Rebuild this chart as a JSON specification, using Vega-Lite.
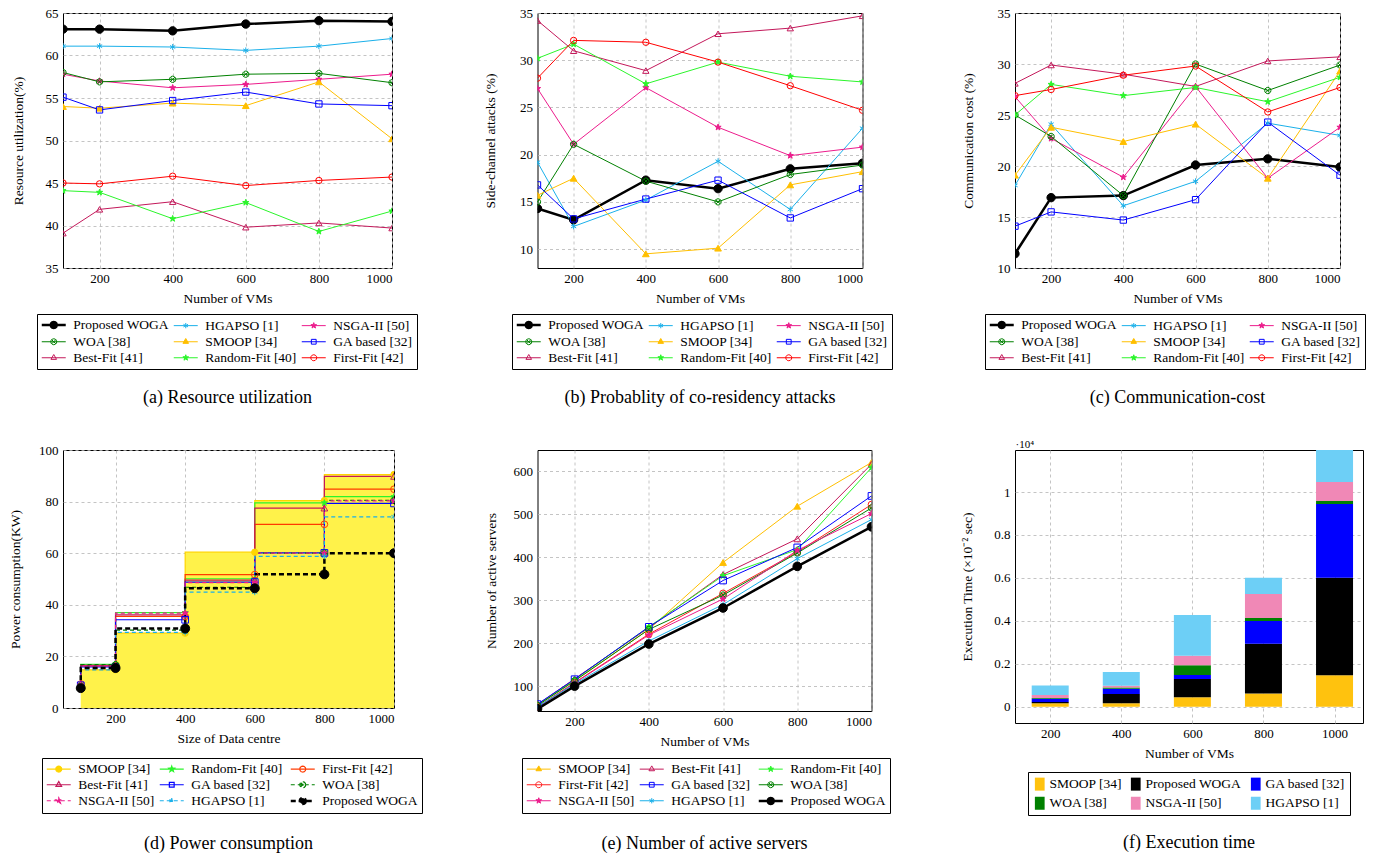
{
"$schema": "https://vega.github.io/schema/vega-lite/v6.json",
"padding": {"left": 8, "top": 6, "right": 5, "bottom": 5},
"background": "white",
"config": {
  "font": "Liberation Serif",
  "view": {"stroke": "#000", "strokeWidth": 1},
  "axis": {"labelFont": "Liberation Serif", "labelFontSize": 13, "labelColor": "#000", "titleFont": "Liberation Serif", "titleFontSize": 13.5, "titleFontWeight": "normal", "titleColor": "#000", "domain": false, "ticks": false, "gridColor": "#b5b5b5", "gridDash": [3, 3], "gridWidth": 0.8, "labelPadding": 4},
  "axisX": {"titlePadding": 6},
  "axisY": {"labelPadding": 5},
  "legend": {"labelFont": "Liberation Serif", "labelFontSize": 13.5, "labelColor": "#000", "strokeColor": "#000", "fillColor": "#fff", "padding": 4, "rowPadding": 1, "columnPadding": 2, "symbolOffset": 5.75, "labelOffset": 12.5, "labelLimit": 220},
  "title": {"font": "Liberation Serif", "fontSize": 18, "fontWeight": "normal", "color": "#000"}
},
"datasets": {
  "a": [
    {"x":100,"s":"Proposed WOGA","v":63.1},{"x":200,"s":"Proposed WOGA","v":63.1},{"x":400,"s":"Proposed WOGA","v":62.9},{"x":600,"s":"Proposed WOGA","v":63.7},{"x":800,"s":"Proposed WOGA","v":64.1},{"x":1000,"s":"Proposed WOGA","v":64.0},
    {"x":100,"s":"HGAPSO [1]","v":61.1},{"x":200,"s":"HGAPSO [1]","v":61.1},{"x":400,"s":"HGAPSO [1]","v":61.0},{"x":600,"s":"HGAPSO [1]","v":60.6},{"x":800,"s":"HGAPSO [1]","v":61.1},{"x":1000,"s":"HGAPSO [1]","v":62.0},
    {"x":100,"s":"NSGA-II [50]","v":57.8},{"x":200,"s":"NSGA-II [50]","v":57.0},{"x":400,"s":"NSGA-II [50]","v":56.2},{"x":600,"s":"NSGA-II [50]","v":56.6},{"x":800,"s":"NSGA-II [50]","v":57.2},{"x":1000,"s":"NSGA-II [50]","v":57.8},
    {"x":100,"s":"WOA [38]","v":58.0},{"x":200,"s":"WOA [38]","v":56.9},{"x":400,"s":"WOA [38]","v":57.2},{"x":600,"s":"WOA [38]","v":57.8},{"x":800,"s":"WOA [38]","v":57.9},{"x":1000,"s":"WOA [38]","v":56.8},
    {"x":100,"s":"SMOOP [34]","v":54.0},{"x":200,"s":"SMOOP [34]","v":53.8},{"x":400,"s":"SMOOP [34]","v":54.4},{"x":600,"s":"SMOOP [34]","v":54.1},{"x":800,"s":"SMOOP [34]","v":56.9},{"x":1000,"s":"SMOOP [34]","v":50.2},
    {"x":100,"s":"GA based [32]","v":55.1},{"x":200,"s":"GA based [32]","v":53.6},{"x":400,"s":"GA based [32]","v":54.7},{"x":600,"s":"GA based [32]","v":55.7},{"x":800,"s":"GA based [32]","v":54.3},{"x":1000,"s":"GA based [32]","v":54.1},
    {"x":100,"s":"Best-Fit [41]","v":39.1},{"x":200,"s":"Best-Fit [41]","v":41.9},{"x":400,"s":"Best-Fit [41]","v":42.8},{"x":600,"s":"Best-Fit [41]","v":39.8},{"x":800,"s":"Best-Fit [41]","v":40.3},{"x":1000,"s":"Best-Fit [41]","v":39.7},
    {"x":100,"s":"Random-Fit [40]","v":44.1},{"x":200,"s":"Random-Fit [40]","v":43.9},{"x":400,"s":"Random-Fit [40]","v":40.8},{"x":600,"s":"Random-Fit [40]","v":42.7},{"x":800,"s":"Random-Fit [40]","v":39.3},{"x":1000,"s":"Random-Fit [40]","v":41.7},
    {"x":100,"s":"First-Fit [42]","v":45.0},{"x":200,"s":"First-Fit [42]","v":44.9},{"x":400,"s":"First-Fit [42]","v":45.8},{"x":600,"s":"First-Fit [42]","v":44.7},{"x":800,"s":"First-Fit [42]","v":45.3},{"x":1000,"s":"First-Fit [42]","v":45.7}
  ],
  "b": [
    {"x":100,"s":"Proposed WOGA","v":14.3},{"x":200,"s":"Proposed WOGA","v":13.1},{"x":400,"s":"Proposed WOGA","v":17.3},{"x":600,"s":"Proposed WOGA","v":16.4},{"x":800,"s":"Proposed WOGA","v":18.5},{"x":1000,"s":"Proposed WOGA","v":19.1},
    {"x":100,"s":"HGAPSO [1]","v":19.2},{"x":200,"s":"HGAPSO [1]","v":12.4},{"x":400,"s":"HGAPSO [1]","v":15.2},{"x":600,"s":"HGAPSO [1]","v":19.3},{"x":800,"s":"HGAPSO [1]","v":14.2},{"x":1000,"s":"HGAPSO [1]","v":22.8},
    {"x":100,"s":"NSGA-II [50]","v":27.0},{"x":200,"s":"NSGA-II [50]","v":21.1},{"x":400,"s":"NSGA-II [50]","v":27.1},{"x":600,"s":"NSGA-II [50]","v":22.9},{"x":800,"s":"NSGA-II [50]","v":19.9},{"x":1000,"s":"NSGA-II [50]","v":20.8},
    {"x":100,"s":"WOA [38]","v":15.0},{"x":200,"s":"WOA [38]","v":21.1},{"x":400,"s":"WOA [38]","v":17.2},{"x":600,"s":"WOA [38]","v":15.0},{"x":800,"s":"WOA [38]","v":17.9},{"x":1000,"s":"WOA [38]","v":18.9},
    {"x":100,"s":"SMOOP [34]","v":15.7},{"x":200,"s":"SMOOP [34]","v":17.5},{"x":400,"s":"SMOOP [34]","v":9.5},{"x":600,"s":"SMOOP [34]","v":10.1},{"x":800,"s":"SMOOP [34]","v":16.8},{"x":1000,"s":"SMOOP [34]","v":18.2},
    {"x":100,"s":"GA based [32]","v":16.8},{"x":200,"s":"GA based [32]","v":13.2},{"x":400,"s":"GA based [32]","v":15.3},{"x":600,"s":"GA based [32]","v":17.3},{"x":800,"s":"GA based [32]","v":13.3},{"x":1000,"s":"GA based [32]","v":16.4},
    {"x":100,"s":"Best-Fit [41]","v":34.2},{"x":200,"s":"Best-Fit [41]","v":31.0},{"x":400,"s":"Best-Fit [41]","v":28.9},{"x":600,"s":"Best-Fit [41]","v":32.8},{"x":800,"s":"Best-Fit [41]","v":33.4},{"x":1000,"s":"Best-Fit [41]","v":34.7},
    {"x":100,"s":"Random-Fit [40]","v":30.2},{"x":200,"s":"Random-Fit [40]","v":31.7},{"x":400,"s":"Random-Fit [40]","v":27.5},{"x":600,"s":"Random-Fit [40]","v":29.8},{"x":800,"s":"Random-Fit [40]","v":28.3},{"x":1000,"s":"Random-Fit [40]","v":27.7},
    {"x":100,"s":"First-Fit [42]","v":28.1},{"x":200,"s":"First-Fit [42]","v":32.1},{"x":400,"s":"First-Fit [42]","v":31.9},{"x":600,"s":"First-Fit [42]","v":29.8},{"x":800,"s":"First-Fit [42]","v":27.3},{"x":1000,"s":"First-Fit [42]","v":24.7}
  ],
  "c": [
    {"x":100,"s":"Proposed WOGA","v":11.4},{"x":200,"s":"Proposed WOGA","v":16.9},{"x":400,"s":"Proposed WOGA","v":17.1},{"x":600,"s":"Proposed WOGA","v":20.1},{"x":800,"s":"Proposed WOGA","v":20.7},{"x":1000,"s":"Proposed WOGA","v":19.9},
    {"x":100,"s":"HGAPSO [1]","v":18.1},{"x":200,"s":"HGAPSO [1]","v":24.1},{"x":400,"s":"HGAPSO [1]","v":16.1},{"x":600,"s":"HGAPSO [1]","v":18.5},{"x":800,"s":"HGAPSO [1]","v":24.2},{"x":1000,"s":"HGAPSO [1]","v":23.0},
    {"x":100,"s":"NSGA-II [50]","v":26.8},{"x":200,"s":"NSGA-II [50]","v":22.7},{"x":400,"s":"NSGA-II [50]","v":18.9},{"x":600,"s":"NSGA-II [50]","v":27.8},{"x":800,"s":"NSGA-II [50]","v":18.8},{"x":1000,"s":"NSGA-II [50]","v":23.8},
    {"x":100,"s":"WOA [38]","v":25.0},{"x":200,"s":"WOA [38]","v":22.9},{"x":400,"s":"WOA [38]","v":17.1},{"x":600,"s":"WOA [38]","v":30.0},{"x":800,"s":"WOA [38]","v":27.4},{"x":1000,"s":"WOA [38]","v":29.9},
    {"x":100,"s":"SMOOP [34]","v":19.1},{"x":200,"s":"SMOOP [34]","v":23.8},{"x":400,"s":"SMOOP [34]","v":22.4},{"x":600,"s":"SMOOP [34]","v":24.1},{"x":800,"s":"SMOOP [34]","v":18.8},{"x":1000,"s":"SMOOP [34]","v":29.3},
    {"x":100,"s":"GA based [32]","v":14.1},{"x":200,"s":"GA based [32]","v":15.5},{"x":400,"s":"GA based [32]","v":14.7},{"x":600,"s":"GA based [32]","v":16.7},{"x":800,"s":"GA based [32]","v":24.3},{"x":1000,"s":"GA based [32]","v":19.1},
    {"x":100,"s":"Best-Fit [41]","v":28.1},{"x":200,"s":"Best-Fit [41]","v":29.9},{"x":400,"s":"Best-Fit [41]","v":29.0},{"x":600,"s":"Best-Fit [41]","v":27.8},{"x":800,"s":"Best-Fit [41]","v":30.3},{"x":1000,"s":"Best-Fit [41]","v":30.7},
    {"x":100,"s":"Random-Fit [40]","v":25.0},{"x":200,"s":"Random-Fit [40]","v":28.0},{"x":400,"s":"Random-Fit [40]","v":26.9},{"x":600,"s":"Random-Fit [40]","v":27.7},{"x":800,"s":"Random-Fit [40]","v":26.3},{"x":1000,"s":"Random-Fit [40]","v":28.7},
    {"x":100,"s":"First-Fit [42]","v":26.9},{"x":200,"s":"First-Fit [42]","v":27.5},{"x":400,"s":"First-Fit [42]","v":28.9},{"x":600,"s":"First-Fit [42]","v":29.8},{"x":800,"s":"First-Fit [42]","v":25.3},{"x":1000,"s":"First-Fit [42]","v":27.7}
  ],
  "d": [
    {"x":100,"s":"SMOOP [34]","v":8.5},{"x":200,"s":"SMOOP [34]","v":14.8},{"x":400,"s":"SMOOP [34]","v":29.0},{"x":600,"s":"SMOOP [34]","v":60.4},{"x":800,"s":"SMOOP [34]","v":80.4},{"x":1000,"s":"SMOOP [34]","v":90.5},
    {"x":100,"s":"Random-Fit [40]","v":8.8},{"x":200,"s":"Random-Fit [40]","v":16.9},{"x":400,"s":"Random-Fit [40]","v":37.0},{"x":600,"s":"Random-Fit [40]","v":50.1},{"x":800,"s":"Random-Fit [40]","v":79.5},{"x":1000,"s":"Random-Fit [40]","v":81.9},
    {"x":100,"s":"First-Fit [42]","v":9.3},{"x":200,"s":"First-Fit [42]","v":16.2},{"x":400,"s":"First-Fit [42]","v":35.5},{"x":600,"s":"First-Fit [42]","v":51.7},{"x":800,"s":"First-Fit [42]","v":71.2},{"x":1000,"s":"First-Fit [42]","v":84.8},
    {"x":100,"s":"Best-Fit [41]","v":9.0},{"x":200,"s":"Best-Fit [41]","v":16.5},{"x":400,"s":"Best-Fit [41]","v":36.1},{"x":600,"s":"Best-Fit [41]","v":49.6},{"x":800,"s":"Best-Fit [41]","v":77.5},{"x":1000,"s":"Best-Fit [41]","v":89.8},
    {"x":100,"s":"GA based [32]","v":8.8},{"x":200,"s":"GA based [32]","v":15.9},{"x":400,"s":"GA based [32]","v":34.2},{"x":600,"s":"GA based [32]","v":48.8},{"x":800,"s":"GA based [32]","v":60.1},{"x":1000,"s":"GA based [32]","v":79.3},
    {"x":100,"s":"WOA [38]","v":8.6},{"x":200,"s":"WOA [38]","v":16.8},{"x":400,"s":"WOA [38]","v":30.2},{"x":600,"s":"WOA [38]","v":46.8},{"x":800,"s":"WOA [38]","v":60.0},{"x":1000,"s":"WOA [38]","v":80.5},
    {"x":100,"s":"NSGA-II [50]","v":8.9},{"x":200,"s":"NSGA-II [50]","v":16.3},{"x":400,"s":"NSGA-II [50]","v":36.8},{"x":600,"s":"NSGA-II [50]","v":48.6},{"x":800,"s":"NSGA-II [50]","v":60.0},{"x":1000,"s":"NSGA-II [50]","v":80.3},
    {"x":100,"s":"HGAPSO [1]","v":8.4},{"x":200,"s":"HGAPSO [1]","v":14.8},{"x":400,"s":"HGAPSO [1]","v":29.3},{"x":600,"s":"HGAPSO [1]","v":44.9},{"x":800,"s":"HGAPSO [1]","v":58.8},{"x":1000,"s":"HGAPSO [1]","v":74.1},
    {"x":100,"s":"Proposed WOGA","v":7.7},{"x":200,"s":"Proposed WOGA","v":15.5},{"x":400,"s":"Proposed WOGA","v":30.8},{"x":600,"s":"Proposed WOGA","v":46.4},{"x":800,"s":"Proposed WOGA","v":51.8},{"x":1000,"s":"Proposed WOGA","v":60.0}
  ],
  "e": [
    {"x":100,"s":"SMOOP [34]","v":57},{"x":200,"s":"SMOOP [34]","v":113},{"x":400,"s":"SMOOP [34]","v":232},{"x":600,"s":"SMOOP [34]","v":388},{"x":800,"s":"SMOOP [34]","v":519},{"x":1000,"s":"SMOOP [34]","v":621},
    {"x":100,"s":"Best-Fit [41]","v":57},{"x":200,"s":"Best-Fit [41]","v":117},{"x":400,"s":"Best-Fit [41]","v":236},{"x":600,"s":"Best-Fit [41]","v":360},{"x":800,"s":"Best-Fit [41]","v":443},{"x":1000,"s":"Best-Fit [41]","v":617},
    {"x":100,"s":"Random-Fit [40]","v":55},{"x":200,"s":"Random-Fit [40]","v":115},{"x":400,"s":"Random-Fit [40]","v":238},{"x":600,"s":"Random-Fit [40]","v":357},{"x":800,"s":"Random-Fit [40]","v":418},{"x":1000,"s":"Random-Fit [40]","v":609},
    {"x":100,"s":"First-Fit [42]","v":52},{"x":200,"s":"First-Fit [42]","v":108},{"x":400,"s":"First-Fit [42]","v":221},{"x":600,"s":"First-Fit [42]","v":316},{"x":800,"s":"First-Fit [42]","v":412},{"x":1000,"s":"First-Fit [42]","v":523},
    {"x":100,"s":"GA based [32]","v":58},{"x":200,"s":"GA based [32]","v":116},{"x":400,"s":"GA based [32]","v":238},{"x":600,"s":"GA based [32]","v":346},{"x":800,"s":"GA based [32]","v":423},{"x":1000,"s":"GA based [32]","v":543},
    {"x":100,"s":"WOA [38]","v":55},{"x":200,"s":"WOA [38]","v":112},{"x":400,"s":"WOA [38]","v":232},{"x":600,"s":"WOA [38]","v":312},{"x":800,"s":"WOA [38]","v":410},{"x":1000,"s":"WOA [38]","v":515},
    {"x":100,"s":"NSGA-II [50]","v":50},{"x":200,"s":"NSGA-II [50]","v":107},{"x":400,"s":"NSGA-II [50]","v":219},{"x":600,"s":"NSGA-II [50]","v":303},{"x":800,"s":"NSGA-II [50]","v":416},{"x":1000,"s":"NSGA-II [50]","v":502},
    {"x":100,"s":"HGAPSO [1]","v":52},{"x":200,"s":"HGAPSO [1]","v":105},{"x":400,"s":"HGAPSO [1]","v":205},{"x":600,"s":"HGAPSO [1]","v":290},{"x":800,"s":"HGAPSO [1]","v":397},{"x":1000,"s":"HGAPSO [1]","v":488},
    {"x":100,"s":"Proposed WOGA","v":47},{"x":200,"s":"Proposed WOGA","v":100},{"x":400,"s":"Proposed WOGA","v":198},{"x":600,"s":"Proposed WOGA","v":282},{"x":800,"s":"Proposed WOGA","v":379},{"x":1000,"s":"Proposed WOGA","v":471}
  ],
  "f": [
    {"x":200,"s":"SMOOP [34]","lo":0,"hi":0.0155},{"x":200,"s":"Proposed WOGA","lo":0.0155,"hi":0.022},{"x":200,"s":"GA based [32]","lo":0.022,"hi":0.037},{"x":200,"s":"WOA [38]","lo":0.037,"hi":0.040},{"x":200,"s":"NSGA-II [50]","lo":0.040,"hi":0.054},{"x":200,"s":"HGAPSO [1]","lo":0.054,"hi":0.099},
    {"x":400,"s":"SMOOP [34]","lo":0,"hi":0.0155},{"x":400,"s":"Proposed WOGA","lo":0.0155,"hi":0.059},{"x":400,"s":"GA based [32]","lo":0.059,"hi":0.084},{"x":400,"s":"WOA [38]","lo":0.084,"hi":0.089},{"x":400,"s":"NSGA-II [50]","lo":0.089,"hi":0.098},{"x":400,"s":"HGAPSO [1]","lo":0.098,"hi":0.1615},
    {"x":600,"s":"SMOOP [34]","lo":0,"hi":0.0435},{"x":600,"s":"Proposed WOGA","lo":0.0435,"hi":0.129},{"x":600,"s":"GA based [32]","lo":0.129,"hi":0.1475},{"x":600,"s":"WOA [38]","lo":0.1475,"hi":0.1925},{"x":600,"s":"NSGA-II [50]","lo":0.1925,"hi":0.2375},{"x":600,"s":"HGAPSO [1]","lo":0.2375,"hi":0.427},
    {"x":800,"s":"SMOOP [34]","lo":0,"hi":0.062},{"x":800,"s":"Proposed WOGA","lo":0.062,"hi":0.293},{"x":800,"s":"GA based [32]","lo":0.293,"hi":0.399},{"x":800,"s":"WOA [38]","lo":0.399,"hi":0.413},{"x":800,"s":"NSGA-II [50]","lo":0.413,"hi":0.525},{"x":800,"s":"HGAPSO [1]","lo":0.525,"hi":0.601},
    {"x":1000,"s":"SMOOP [34]","lo":0,"hi":0.146},{"x":1000,"s":"Proposed WOGA","lo":0.146,"hi":0.601},{"x":1000,"s":"GA based [32]","lo":0.601,"hi":0.944},{"x":1000,"s":"WOA [38]","lo":0.944,"hi":0.958},{"x":1000,"s":"NSGA-II [50]","lo":0.958,"hi":1.047},{"x":1000,"s":"HGAPSO [1]","lo":1.047,"hi":1.25}
  ]
},
"columns": 3,
"bounds": "flush",
"spacing": {"row": 182, "column": 143.5},
"resolve": {
  "scale": {"stroke": "independent", "fill": "independent", "shape": "independent", "size": "independent", "strokeWidth": "independent", "strokeDash": "independent", "color": "independent"},
  "legend": {"stroke": "independent", "fill": "independent", "shape": "independent", "size": "independent", "strokeWidth": "independent", "strokeDash": "independent", "color": "independent"}
},
"concat": [
  {
    "width": 329, "height": 255,
    "data": {"name": "a"},
    "title": {"text": "(a) Resource utilization", "orient": "bottom", "anchor": "middle", "frame": "group", "offset": 19},
    "layer": [
      {"mark": {"type": "line", "clip": true},
       "encoding": {
         "x": {"field": "x", "type": "quantitative", "scale": {"domain": [100, 1000], "nice": false, "zero": false}, "axis": {"values": [200, 400, 600, 800, 1000], "format": "d", "title": "Number of VMs"}},
         "y": {"field": "v", "type": "quantitative", "scale": {"domain": [35, 65], "nice": false, "zero": false}, "axis": {"values": [35, 40, 45, 50, 55, 60, 65], "title": "Resource utilization(%)", "titlePadding": 20}},
         "stroke": {"field": "s", "type": "nominal",
           "scale": {"domain": ["Proposed WOGA","HGAPSO [1]","NSGA-II [50]","WOA [38]","SMOOP [34]","GA based [32]","Best-Fit [41]","Random-Fit [40]","First-Fit [42]"], "range": ["#000000","#1ab0ea","#ec1c8c","#008000","#ffbf00","#0000ff","#c3185a","#2bf52b","#ff0000"]},
           "legend": {"orient": "none", "legendX": -26, "legendY": 301, "columns": 3, "direction": "horizontal", "title": null,
             "encode": {"symbols": {"update": {
               "shape": {"signal": "['M-2.18,0L2.18,0M0.545,0L0.472,0.273L0.273,0.472L0,0.545L-0.273,0.472L-0.472,0.273L-0.545,0L-0.472,-0.273L-0.273,-0.472L0,-0.545L0.273,-0.472L0.472,-0.273Z','M-2.18,0L2.18,0M0,-0.48L0,0.48M-0.415,-0.24L0.415,0.24M-0.415,0.24L0.415,-0.24','M-2.18,0L2.18,0M0,-0.545L0.128,-0.176L0.518,-0.168L0.207,0.067L0.32,0.441L0,0.218L-0.32,0.441L-0.207,0.067L-0.518,-0.168L-0.128,-0.176Z','M-2.18,0L2.18,0M0.545,0L0.472,0.273L0.273,0.472L0,0.545L-0.273,0.472L-0.472,0.273L-0.545,0L-0.472,-0.273L-0.273,-0.472L0,-0.545L0.273,-0.472L0.472,-0.273ZM-0.386,-0.386L0.386,0.386M-0.386,0.386L0.386,-0.386','M-2.18,0L2.18,0M0,-0.589L0.51,0.295L-0.51,0.295Z','M-2.18,0L2.18,0M-0.436,-0.436L0.436,-0.436L0.436,0.436L-0.436,0.436Z','M-2.18,0L2.18,0M0,-0.589L0.51,0.295L-0.51,0.295Z','M-2.18,0L2.18,0M0,-0.545L0.128,-0.176L0.518,-0.168L0.207,0.067L0.32,0.441L0,0.218L-0.32,0.441L-0.207,0.067L-0.518,-0.168L-0.128,-0.176Z','M-2.18,0L2.18,0M0.545,0L0.472,0.273L0.273,0.472L0,0.545L-0.273,0.472L-0.472,0.273L-0.545,0L-0.472,-0.273L-0.273,-0.472L0,-0.545L0.273,-0.472L0.472,-0.273Z'][datum.index]"},
               "fill": {"signal": "['#000000','transparent','#ec1c8c','transparent','#ffbf00','transparent','transparent','#2bf52b','transparent'][datum.index]"},
               "size": {"value": 121},
               "opacity": {"value": 1}
             }}}}},
         "strokeWidth": {"field": "s", "type": "nominal", "scale": {"type": "ordinal", "domain": ["Proposed WOGA","HGAPSO [1]","NSGA-II [50]","WOA [38]","SMOOP [34]","GA based [32]","Best-Fit [41]","Random-Fit [40]","First-Fit [42]"], "range": [2.5,1,1,1,1,1,1,1,1]}, "legend": null}
       }},
      {"mark": {"type": "point", "opacity": 1, "strokeWidth": 1, "clip": true},
       "encoding": {
         "x": {"field": "x", "type": "quantitative"},
         "y": {"field": "v", "type": "quantitative"},
         "stroke": {"field": "s", "type": "nominal", "legend": null},
         "fill": {"field": "s", "type": "nominal", "scale": {"domain": ["First-Fit [42]","Random-Fit [40]","Best-Fit [41]","GA based [32]","SMOOP [34]","WOA [38]","NSGA-II [50]","HGAPSO [1]","Proposed WOGA"], "range": ["transparent","#2bf52b","transparent","transparent","#ffbf00","transparent","#ec1c8c","transparent","#000000"]}, "legend": null},
         "shape": {"field": "s", "type": "nominal", "scale": {"domain": ["First-Fit [42]","Random-Fit [40]","Best-Fit [41]","GA based [32]","SMOOP [34]","WOA [38]","NSGA-II [50]","HGAPSO [1]","Proposed WOGA"], "range": ["circle","M0,-1L0.235,-0.324L0.951,-0.309L0.38,0.124L0.588,0.809L0,0.4L-0.588,0.809L-0.38,0.124L-0.951,-0.309L-0.235,-0.324Z","triangle-up","square","triangle-up","M1,0L0.866,0.5L0.5,0.866L0,1L-0.5,0.866L-0.866,0.5L-1,0L-0.866,-0.5L-0.5,-0.866L0,-1L0.5,-0.866L0.866,-0.5ZM-0.707,-0.707L0.707,0.707M-0.707,0.707L0.707,-0.707","M0,-1L0.235,-0.324L0.951,-0.309L0.38,0.124L0.588,0.809L0,0.4L-0.588,0.809L-0.38,0.124L-0.951,-0.309L-0.235,-0.324Z","M0,-1L0,1M-0.866,-0.5L0.866,0.5M-0.866,0.5L0.866,-0.5","circle"]}, "legend": null},
         "size": {"field": "s", "type": "nominal", "scale": {"type": "ordinal", "domain": ["First-Fit [42]","Random-Fit [40]","Best-Fit [41]","GA based [32]","SMOOP [34]","WOA [38]","NSGA-II [50]","HGAPSO [1]","Proposed WOGA"], "range": [40,42,40,40,45,40,42,36,70]}, "legend": null}
       }}
    ]
  },
  {
    "width": 325, "height": 255,
    "data": {"name": "b"},
    "title": {"text": "(b) Probablity of co-residency attacks", "orient": "bottom", "anchor": "middle", "frame": "group", "offset": 19},
    "layer": [
      {"mark": {"type": "line", "clip": true},
       "encoding": {
         "x": {"field": "x", "type": "quantitative", "scale": {"domain": [100, 1000], "nice": false, "zero": false}, "axis": {"values": [200, 400, 600, 800, 1000], "format": "d", "title": "Number of VMs"}},
         "y": {"field": "v", "type": "quantitative", "scale": {"domain": [8, 35], "nice": false, "zero": false}, "axis": {"values": [10, 15, 20, 25, 30, 35], "title": "Side-channel attacks (%)", "titlePadding": 22}},
         "stroke": {"field": "s", "type": "nominal",
           "scale": {"domain": ["Proposed WOGA","HGAPSO [1]","NSGA-II [50]","WOA [38]","SMOOP [34]","GA based [32]","Best-Fit [41]","Random-Fit [40]","First-Fit [42]"], "range": ["#000000","#1ab0ea","#ec1c8c","#008000","#ffbf00","#0000ff","#c3185a","#2bf52b","#ff0000"]},
           "legend": {"orient": "none", "legendX": -25.5, "legendY": 301, "columns": 3, "direction": "horizontal", "title": null,
             "encode": {"symbols": {"update": {
               "shape": {"signal": "['M-2.18,0L2.18,0M0.545,0L0.472,0.273L0.273,0.472L0,0.545L-0.273,0.472L-0.472,0.273L-0.545,0L-0.472,-0.273L-0.273,-0.472L0,-0.545L0.273,-0.472L0.472,-0.273Z','M-2.18,0L2.18,0M0,-0.48L0,0.48M-0.415,-0.24L0.415,0.24M-0.415,0.24L0.415,-0.24','M-2.18,0L2.18,0M0,-0.545L0.128,-0.176L0.518,-0.168L0.207,0.067L0.32,0.441L0,0.218L-0.32,0.441L-0.207,0.067L-0.518,-0.168L-0.128,-0.176Z','M-2.18,0L2.18,0M0.545,0L0.472,0.273L0.273,0.472L0,0.545L-0.273,0.472L-0.472,0.273L-0.545,0L-0.472,-0.273L-0.273,-0.472L0,-0.545L0.273,-0.472L0.472,-0.273ZM-0.386,-0.386L0.386,0.386M-0.386,0.386L0.386,-0.386','M-2.18,0L2.18,0M0,-0.589L0.51,0.295L-0.51,0.295Z','M-2.18,0L2.18,0M-0.436,-0.436L0.436,-0.436L0.436,0.436L-0.436,0.436Z','M-2.18,0L2.18,0M0,-0.589L0.51,0.295L-0.51,0.295Z','M-2.18,0L2.18,0M0,-0.545L0.128,-0.176L0.518,-0.168L0.207,0.067L0.32,0.441L0,0.218L-0.32,0.441L-0.207,0.067L-0.518,-0.168L-0.128,-0.176Z','M-2.18,0L2.18,0M0.545,0L0.472,0.273L0.273,0.472L0,0.545L-0.273,0.472L-0.472,0.273L-0.545,0L-0.472,-0.273L-0.273,-0.472L0,-0.545L0.273,-0.472L0.472,-0.273Z'][datum.index]"},
               "fill": {"signal": "['#000000','transparent','#ec1c8c','transparent','#ffbf00','transparent','transparent','#2bf52b','transparent'][datum.index]"},
               "size": {"value": 121},
               "opacity": {"value": 1}
             }}}}},
         "strokeWidth": {"field": "s", "type": "nominal", "scale": {"type": "ordinal", "domain": ["Proposed WOGA","HGAPSO [1]","NSGA-II [50]","WOA [38]","SMOOP [34]","GA based [32]","Best-Fit [41]","Random-Fit [40]","First-Fit [42]"], "range": [2.5,1,1,1,1,1,1,1,1]}, "legend": null}
       }},
      {"mark": {"type": "point", "opacity": 1, "strokeWidth": 1, "clip": true},
       "encoding": {
         "x": {"field": "x", "type": "quantitative"},
         "y": {"field": "v", "type": "quantitative"},
         "stroke": {"field": "s", "type": "nominal", "legend": null},
         "fill": {"field": "s", "type": "nominal", "scale": {"domain": ["First-Fit [42]","Random-Fit [40]","Best-Fit [41]","GA based [32]","SMOOP [34]","WOA [38]","NSGA-II [50]","HGAPSO [1]","Proposed WOGA"], "range": ["transparent","#2bf52b","transparent","transparent","#ffbf00","transparent","#ec1c8c","transparent","#000000"]}, "legend": null},
         "shape": {"field": "s", "type": "nominal", "scale": {"domain": ["First-Fit [42]","Random-Fit [40]","Best-Fit [41]","GA based [32]","SMOOP [34]","WOA [38]","NSGA-II [50]","HGAPSO [1]","Proposed WOGA"], "range": ["circle","M0,-1L0.235,-0.324L0.951,-0.309L0.38,0.124L0.588,0.809L0,0.4L-0.588,0.809L-0.38,0.124L-0.951,-0.309L-0.235,-0.324Z","triangle-up","square","triangle-up","M1,0L0.866,0.5L0.5,0.866L0,1L-0.5,0.866L-0.866,0.5L-1,0L-0.866,-0.5L-0.5,-0.866L0,-1L0.5,-0.866L0.866,-0.5ZM-0.707,-0.707L0.707,0.707M-0.707,0.707L0.707,-0.707","M0,-1L0.235,-0.324L0.951,-0.309L0.38,0.124L0.588,0.809L0,0.4L-0.588,0.809L-0.38,0.124L-0.951,-0.309L-0.235,-0.324Z","M0,-1L0,1M-0.866,-0.5L0.866,0.5M-0.866,0.5L0.866,-0.5","circle"]}, "legend": null},
         "size": {"field": "s", "type": "nominal", "scale": {"type": "ordinal", "domain": ["First-Fit [42]","Random-Fit [40]","Best-Fit [41]","GA based [32]","SMOOP [34]","WOA [38]","NSGA-II [50]","HGAPSO [1]","Proposed WOGA"], "range": [40,42,40,40,45,40,42,36,70]}, "legend": null}
       }}
    ]
  },
  {
    "width": 325, "height": 255,
    "data": {"name": "c"},
    "title": {"text": "(c) Communication-cost", "orient": "bottom", "anchor": "middle", "frame": "group", "offset": 19},
    "layer": [
      {"mark": {"type": "line", "clip": true},
       "encoding": {
         "x": {"field": "x", "type": "quantitative", "scale": {"domain": [100, 1000], "nice": false, "zero": false}, "axis": {"values": [200, 400, 600, 800, 1000], "format": "d", "title": "Number of VMs"}},
         "y": {"field": "v", "type": "quantitative", "scale": {"domain": [10, 35], "nice": false, "zero": false}, "axis": {"values": [10, 15, 20, 25, 30, 35], "title": "Communication cost (%)", "titlePadding": 22}},
         "stroke": {"field": "s", "type": "nominal",
           "scale": {"domain": ["Proposed WOGA","HGAPSO [1]","NSGA-II [50]","WOA [38]","SMOOP [34]","GA based [32]","Best-Fit [41]","Random-Fit [40]","First-Fit [42]"], "range": ["#000000","#1ab0ea","#ec1c8c","#008000","#ffbf00","#0000ff","#c3185a","#2bf52b","#ff0000"]},
           "legend": {"orient": "none", "legendX": -30, "legendY": 301, "columns": 3, "direction": "horizontal", "title": null,
             "encode": {"symbols": {"update": {
               "shape": {"signal": "['M-2.18,0L2.18,0M0.545,0L0.472,0.273L0.273,0.472L0,0.545L-0.273,0.472L-0.472,0.273L-0.545,0L-0.472,-0.273L-0.273,-0.472L0,-0.545L0.273,-0.472L0.472,-0.273Z','M-2.18,0L2.18,0M0,-0.48L0,0.48M-0.415,-0.24L0.415,0.24M-0.415,0.24L0.415,-0.24','M-2.18,0L2.18,0M0,-0.545L0.128,-0.176L0.518,-0.168L0.207,0.067L0.32,0.441L0,0.218L-0.32,0.441L-0.207,0.067L-0.518,-0.168L-0.128,-0.176Z','M-2.18,0L2.18,0M0.545,0L0.472,0.273L0.273,0.472L0,0.545L-0.273,0.472L-0.472,0.273L-0.545,0L-0.472,-0.273L-0.273,-0.472L0,-0.545L0.273,-0.472L0.472,-0.273ZM-0.386,-0.386L0.386,0.386M-0.386,0.386L0.386,-0.386','M-2.18,0L2.18,0M0,-0.589L0.51,0.295L-0.51,0.295Z','M-2.18,0L2.18,0M-0.436,-0.436L0.436,-0.436L0.436,0.436L-0.436,0.436Z','M-2.18,0L2.18,0M0,-0.589L0.51,0.295L-0.51,0.295Z','M-2.18,0L2.18,0M0,-0.545L0.128,-0.176L0.518,-0.168L0.207,0.067L0.32,0.441L0,0.218L-0.32,0.441L-0.207,0.067L-0.518,-0.168L-0.128,-0.176Z','M-2.18,0L2.18,0M0.545,0L0.472,0.273L0.273,0.472L0,0.545L-0.273,0.472L-0.472,0.273L-0.545,0L-0.472,-0.273L-0.273,-0.472L0,-0.545L0.273,-0.472L0.472,-0.273Z'][datum.index]"},
               "fill": {"signal": "['#000000','transparent','#ec1c8c','transparent','#ffbf00','transparent','transparent','#2bf52b','transparent'][datum.index]"},
               "size": {"value": 121},
               "opacity": {"value": 1}
             }}}}},
         "strokeWidth": {"field": "s", "type": "nominal", "scale": {"type": "ordinal", "domain": ["Proposed WOGA","HGAPSO [1]","NSGA-II [50]","WOA [38]","SMOOP [34]","GA based [32]","Best-Fit [41]","Random-Fit [40]","First-Fit [42]"], "range": [2.5,1,1,1,1,1,1,1,1]}, "legend": null}
       }},
      {"mark": {"type": "point", "opacity": 1, "strokeWidth": 1, "clip": true},
       "encoding": {
         "x": {"field": "x", "type": "quantitative"},
         "y": {"field": "v", "type": "quantitative"},
         "stroke": {"field": "s", "type": "nominal", "legend": null},
         "fill": {"field": "s", "type": "nominal", "scale": {"domain": ["First-Fit [42]","Random-Fit [40]","Best-Fit [41]","GA based [32]","SMOOP [34]","WOA [38]","NSGA-II [50]","HGAPSO [1]","Proposed WOGA"], "range": ["transparent","#2bf52b","transparent","transparent","#ffbf00","transparent","#ec1c8c","transparent","#000000"]}, "legend": null},
         "shape": {"field": "s", "type": "nominal", "scale": {"domain": ["First-Fit [42]","Random-Fit [40]","Best-Fit [41]","GA based [32]","SMOOP [34]","WOA [38]","NSGA-II [50]","HGAPSO [1]","Proposed WOGA"], "range": ["circle","M0,-1L0.235,-0.324L0.951,-0.309L0.38,0.124L0.588,0.809L0,0.4L-0.588,0.809L-0.38,0.124L-0.951,-0.309L-0.235,-0.324Z","triangle-up","square","triangle-up","M1,0L0.866,0.5L0.5,0.866L0,1L-0.5,0.866L-0.866,0.5L-1,0L-0.866,-0.5L-0.5,-0.866L0,-1L0.5,-0.866L0.866,-0.5ZM-0.707,-0.707L0.707,0.707M-0.707,0.707L0.707,-0.707","M0,-1L0.235,-0.324L0.951,-0.309L0.38,0.124L0.588,0.809L0,0.4L-0.588,0.809L-0.38,0.124L-0.951,-0.309L-0.235,-0.324Z","M0,-1L0,1M-0.866,-0.5L0.866,0.5M-0.866,0.5L0.866,-0.5","circle"]}, "legend": null},
         "size": {"field": "s", "type": "nominal", "scale": {"type": "ordinal", "domain": ["First-Fit [42]","Random-Fit [40]","Best-Fit [41]","GA based [32]","SMOOP [34]","WOA [38]","NSGA-II [50]","HGAPSO [1]","Proposed WOGA"], "range": [40,42,40,40,45,40,42,36,70]}, "legend": null}
       }}
    ]
  },
  {
    "width": 331, "height": 258,
    "data": {"name": "d"},
    "title": {"text": "(d) Power consumption", "orient": "bottom", "anchor": "middle", "frame": "group", "offset": 21},
    "layer": [
      {"transform": [{"filter": "datum.s == 'SMOOP [34]'"}],
       "mark": {"type": "area", "interpolate": "step-before", "color": "#fff24a", "opacity": 1, "clip": true},
       "encoding": {
         "x": {"field": "x", "type": "quantitative", "scale": {"domain": [49, 1000], "nice": false, "zero": false}, "axis": {"values": [200, 400, 600, 800, 1000], "format": "d", "title": "Size of Data centre"}},
         "y": {"field": "v", "type": "quantitative", "scale": {"domain": [0, 100], "nice": false}, "axis": {"values": [0, 20, 40, 60, 80, 100], "title": "Power consumption(KW)", "titlePadding": 16}}
       }},
      {"mark": {"type": "line", "interpolate": "step-before", "clip": true},
       "encoding": {
         "x": {"field": "x", "type": "quantitative"},
         "y": {"field": "v", "type": "quantitative"},
         "stroke": {"field": "s", "type": "nominal",
           "scale": {"domain": ["SMOOP [34]","Random-Fit [40]","First-Fit [42]","Best-Fit [41]","GA based [32]","WOA [38]","NSGA-II [50]","HGAPSO [1]","Proposed WOGA"], "range": ["#ffd500","#2bf52b","#ff3a00","#c3185a","#0000ff","#008000","#ec1c8c","#1ab0ea","#000000"]},
           "legend": {"orient": "none", "legendX": -21, "legendY": 308, "columns": 3, "direction": "horizontal", "title": null,
             "encode": {"symbols": {"update": {
               "shape": {"signal": "['M-2.18,0L2.18,0M0.545,0L0.472,0.273L0.273,0.472L0,0.545L-0.273,0.472L-0.472,0.273L-0.545,0L-0.472,-0.273L-0.273,-0.472L0,-0.545L0.273,-0.472L0.472,-0.273Z','M-2.18,0L2.18,0M0,-0.545L0.128,-0.176L0.518,-0.168L0.207,0.067L0.32,0.441L0,0.218L-0.32,0.441L-0.207,0.067L-0.518,-0.168L-0.128,-0.176Z','M-2.18,0L2.18,0M0.545,0L0.472,0.273L0.273,0.472L0,0.545L-0.273,0.472L-0.472,0.273L-0.545,0L-0.472,-0.273L-0.273,-0.472L0,-0.545L0.273,-0.472L0.472,-0.273Z','M-2.18,0L2.18,0M0,-0.589L0.51,0.295L-0.51,0.295Z','M-2.18,0L2.18,0M-0.436,-0.436L0.436,-0.436L0.436,0.436L-0.436,0.436Z','M-2.18,0L2.18,0M0.545,0L0.472,0.273L0.273,0.472L0,0.545L-0.273,0.472L-0.472,0.273L-0.545,0L-0.472,-0.273L-0.273,-0.472L0,-0.545L0.273,-0.472L0.472,-0.273ZM-0.386,-0.386L0.386,0.386M-0.386,0.386L0.386,-0.386','M-2.18,0L2.18,0M0,-0.545L0.128,-0.176L0.518,-0.168L0.207,0.067L0.32,0.441L0,0.218L-0.32,0.441L-0.207,0.067L-0.518,-0.168L-0.128,-0.176Z','M-2.18,0L2.18,0M0,-0.48L0,0.48M-0.415,-0.24L0.415,0.24M-0.415,0.24L0.415,-0.24','M-2.18,0L2.18,0M0.545,0L0.472,0.273L0.273,0.472L0,0.545L-0.273,0.472L-0.472,0.273L-0.545,0L-0.472,-0.273L-0.273,-0.472L0,-0.545L0.273,-0.472L0.472,-0.273Z'][datum.index]"},
               "fill": {"signal": "['#ffd500','#2bf52b','transparent','transparent','transparent','transparent','#ec1c8c','transparent','#000000'][datum.index]"},
               "size": {"value": 121},
               "opacity": {"value": 1}
             }}}}},
         "strokeDash": {"field": "s", "type": "nominal", "scale": {"domain": ["SMOOP [34]","Random-Fit [40]","First-Fit [42]","Best-Fit [41]","GA based [32]","WOA [38]","NSGA-II [50]","HGAPSO [1]","Proposed WOGA"], "range": [[1,0],[1,0],[1,0],[1,0],[1,0],[4,3],[4,3],[4,3],[5,3]]}, "legend": null},
         "strokeWidth": {"field": "s", "type": "nominal", "scale": {"type": "ordinal", "domain": ["SMOOP [34]","Random-Fit [40]","First-Fit [42]","Best-Fit [41]","GA based [32]","WOA [38]","NSGA-II [50]","HGAPSO [1]","Proposed WOGA"], "range": [1.2,1.2,1.2,1.2,1.2,1.2,1.2,1.2,2.5]}, "legend": null}
       }},
      {"mark": {"type": "point", "opacity": 1, "strokeWidth": 1, "clip": true},
       "encoding": {
         "x": {"field": "x", "type": "quantitative"},
         "y": {"field": "v", "type": "quantitative"},
         "stroke": {"field": "s", "type": "nominal", "legend": null},
         "fill": {"field": "s", "type": "nominal", "scale": {"domain": ["Proposed WOGA","HGAPSO [1]","NSGA-II [50]","WOA [38]","GA based [32]","Best-Fit [41]","First-Fit [42]","Random-Fit [40]","SMOOP [34]"], "range": ["#000000","transparent","#ec1c8c","transparent","transparent","transparent","transparent","#2bf52b","#ffd500"]}, "legend": null},
         "shape": {"field": "s", "type": "nominal", "scale": {"domain": ["Proposed WOGA","HGAPSO [1]","NSGA-II [50]","WOA [38]","GA based [32]","Best-Fit [41]","First-Fit [42]","Random-Fit [40]","SMOOP [34]"], "range": ["circle","M0,-1L0,1M-0.866,-0.5L0.866,0.5M-0.866,0.5L0.866,-0.5","M0,-1L0.235,-0.324L0.951,-0.309L0.38,0.124L0.588,0.809L0,0.4L-0.588,0.809L-0.38,0.124L-0.951,-0.309L-0.235,-0.324Z","M1,0L0.866,0.5L0.5,0.866L0,1L-0.5,0.866L-0.866,0.5L-1,0L-0.866,-0.5L-0.5,-0.866L0,-1L0.5,-0.866L0.866,-0.5ZM-0.707,-0.707L0.707,0.707M-0.707,0.707L0.707,-0.707","square","triangle-up","circle","M0,-1L0.235,-0.324L0.951,-0.309L0.38,0.124L0.588,0.809L0,0.4L-0.588,0.809L-0.38,0.124L-0.951,-0.309L-0.235,-0.324Z","circle"]}, "legend": null},
         "size": {"field": "s", "type": "nominal", "scale": {"type": "ordinal", "domain": ["Proposed WOGA","HGAPSO [1]","NSGA-II [50]","WOA [38]","GA based [32]","Best-Fit [41]","First-Fit [42]","Random-Fit [40]","SMOOP [34]"], "range": [80,36,42,42,45,45,45,42,40]}, "legend": null}
       }}
    ]
  },
  {
    "width": 334, "height": 261,
    "data": {"name": "e"},
    "title": {"text": "(e) Number of active servers", "orient": "bottom", "anchor": "middle", "frame": "group", "offset": 21},
    "layer": [
      {"mark": {"type": "line", "clip": true},
       "encoding": {
         "x": {"field": "x", "type": "quantitative", "scale": {"domain": [100, 1000], "nice": false, "zero": false}, "axis": {"values": [200, 400, 600, 800, 1000], "format": "d", "title": "Number of VMs"}},
         "y": {"field": "v", "type": "quantitative", "scale": {"domain": [42, 650], "nice": false, "zero": false}, "axis": {"values": [100, 200, 300, 400, 500, 600], "format": "d", "title": "Number of active servers", "titlePadding": 15}},
         "stroke": {"field": "s", "type": "nominal",
           "scale": {"domain": ["SMOOP [34]","Best-Fit [41]","Random-Fit [40]","First-Fit [42]","GA based [32]","WOA [38]","NSGA-II [50]","HGAPSO [1]","Proposed WOGA"], "range": ["#ffbf00","#c3185a","#2bf52b","#ff2020","#0000ff","#008000","#ec1c8c","#1ab0ea","#000000"]},
           "legend": {"orient": "none", "legendX": -15.5, "legendY": 308, "columns": 3, "direction": "horizontal", "title": null,
             "encode": {"symbols": {"update": {
               "shape": {"signal": "['M-2.18,0L2.18,0M0,-0.589L0.51,0.295L-0.51,0.295Z','M-2.18,0L2.18,0M0,-0.589L0.51,0.295L-0.51,0.295Z','M-2.18,0L2.18,0M0,-0.545L0.128,-0.176L0.518,-0.168L0.207,0.067L0.32,0.441L0,0.218L-0.32,0.441L-0.207,0.067L-0.518,-0.168L-0.128,-0.176Z','M-2.18,0L2.18,0M0.545,0L0.472,0.273L0.273,0.472L0,0.545L-0.273,0.472L-0.472,0.273L-0.545,0L-0.472,-0.273L-0.273,-0.472L0,-0.545L0.273,-0.472L0.472,-0.273Z','M-2.18,0L2.18,0M-0.436,-0.436L0.436,-0.436L0.436,0.436L-0.436,0.436Z','M-2.18,0L2.18,0M0.545,0L0.472,0.273L0.273,0.472L0,0.545L-0.273,0.472L-0.472,0.273L-0.545,0L-0.472,-0.273L-0.273,-0.472L0,-0.545L0.273,-0.472L0.472,-0.273ZM-0.386,-0.386L0.386,0.386M-0.386,0.386L0.386,-0.386','M-2.18,0L2.18,0M0,-0.545L0.128,-0.176L0.518,-0.168L0.207,0.067L0.32,0.441L0,0.218L-0.32,0.441L-0.207,0.067L-0.518,-0.168L-0.128,-0.176Z','M-2.18,0L2.18,0M0,-0.48L0,0.48M-0.415,-0.24L0.415,0.24M-0.415,0.24L0.415,-0.24','M-2.18,0L2.18,0M0.545,0L0.472,0.273L0.273,0.472L0,0.545L-0.273,0.472L-0.472,0.273L-0.545,0L-0.472,-0.273L-0.273,-0.472L0,-0.545L0.273,-0.472L0.472,-0.273Z'][datum.index]"},
               "fill": {"signal": "['#ffbf00','transparent','#2bf52b','transparent','transparent','transparent','#ec1c8c','transparent','#000000'][datum.index]"},
               "size": {"value": 121},
               "opacity": {"value": 1}
             }}}}},
         "strokeWidth": {"field": "s", "type": "nominal", "scale": {"type": "ordinal", "domain": ["SMOOP [34]","Best-Fit [41]","Random-Fit [40]","First-Fit [42]","GA based [32]","WOA [38]","NSGA-II [50]","HGAPSO [1]","Proposed WOGA"], "range": [1,1,1,1,1,1,1,1,2.5]}, "legend": null}
       }},
      {"mark": {"type": "point", "opacity": 1, "strokeWidth": 1, "clip": true},
       "encoding": {
         "x": {"field": "x", "type": "quantitative"},
         "y": {"field": "v", "type": "quantitative"},
         "stroke": {"field": "s", "type": "nominal", "legend": null},
         "fill": {"field": "s", "type": "nominal", "scale": {"domain": ["Proposed WOGA","HGAPSO [1]","NSGA-II [50]","WOA [38]","GA based [32]","First-Fit [42]","Random-Fit [40]","Best-Fit [41]","SMOOP [34]"], "range": ["#000000","transparent","#ec1c8c","transparent","transparent","transparent","#2bf52b","transparent","#ffbf00"]}, "legend": null},
         "shape": {"field": "s", "type": "nominal", "scale": {"domain": ["Proposed WOGA","HGAPSO [1]","NSGA-II [50]","WOA [38]","GA based [32]","First-Fit [42]","Random-Fit [40]","Best-Fit [41]","SMOOP [34]"], "range": ["circle","M0,-1L0,1M-0.866,-0.5L0.866,0.5M-0.866,0.5L0.866,-0.5","M0,-1L0.235,-0.324L0.951,-0.309L0.38,0.124L0.588,0.809L0,0.4L-0.588,0.809L-0.38,0.124L-0.951,-0.309L-0.235,-0.324Z","M1,0L0.866,0.5L0.5,0.866L0,1L-0.5,0.866L-0.866,0.5L-1,0L-0.866,-0.5L-0.5,-0.866L0,-1L0.5,-0.866L0.866,-0.5ZM-0.707,-0.707L0.707,0.707M-0.707,0.707L0.707,-0.707","square","circle","M0,-1L0.235,-0.324L0.951,-0.309L0.38,0.124L0.588,0.809L0,0.4L-0.588,0.809L-0.38,0.124L-0.951,-0.309L-0.235,-0.324Z","triangle-up","triangle-up"]}, "legend": null},
         "size": {"field": "s", "type": "nominal", "scale": {"type": "ordinal", "domain": ["Proposed WOGA","HGAPSO [1]","NSGA-II [50]","WOA [38]","GA based [32]","First-Fit [42]","Random-Fit [40]","Best-Fit [41]","SMOOP [34]"], "range": [75,36,42,42,45,45,42,45,45]}, "legend": null}
       }}
    ]
  },
  {
    "width": 348, "height": 273,
    "data": {"name": "f"},
    "title": {"text": "(f) Execution time", "orient": "bottom", "anchor": "middle", "frame": "group", "offset": 18},
    "resolve": {"scale": {"x": "independent"}},
    "layer": [
      {"mark": {"type": "bar", "size": 37, "clip": true},
       "encoding": {
         "x": {"field": "x", "type": "quantitative", "scale": {"domain": [115, 1066], "nice": false, "zero": false}, "axis": {"values": [200, 400, 600, 800, 1000], "format": "d", "title": "Number of VMs", "orient": "bottom"}},
         "y": {"field": "lo", "type": "quantitative", "scale": {"domain": [-0.076, 1.196], "nice": false, "zero": false}, "axis": {"values": [0, 0.2, 0.4, 0.6, 0.8, 1], "format": "~g", "title": "Execution Time (×10⁻² sec)", "titlePadding": 19}},
         "y2": {"field": "hi"},
         "color": {"field": "s", "type": "nominal",
           "scale": {"domain": ["SMOOP [34]","Proposed WOGA","GA based [32]","WOA [38]","NSGA-II [50]","HGAPSO [1]"], "range": ["#ffc20e","#000000","#0000ff","#008000","#f088b6","#6dcff6"]},
           "legend": {"orient": "none", "legendX": 13, "legendY": 322, "columns": 3, "direction": "horizontal", "title": null, "symbolType": "M-0.75,-1L0.75,-1L0.75,1L-0.75,1Z", "symbolSize": 169, "symbolStrokeWidth": 0, "symbolOpacity": 1, "symbolOffset": 0, "labelOffset": 3, "padding": 5, "rowPadding": 4.5, "columnPadding": 7}}
       }},
      {"mark": {"type": "tick", "opacity": 0},
       "encoding": {
         "x": {"field": "x", "type": "quantitative", "scale": {"domain": [115, 1066], "nice": false, "zero": false}, "axis": {"orient": "top", "title": "·10⁴", "titleAnchor": "start", "titleAlign": "left", "titleFontSize": 11, "titlePadding": 1, "labels": false, "ticks": false, "domain": false, "grid": false}}
       }}
    ]
  }
]
}
